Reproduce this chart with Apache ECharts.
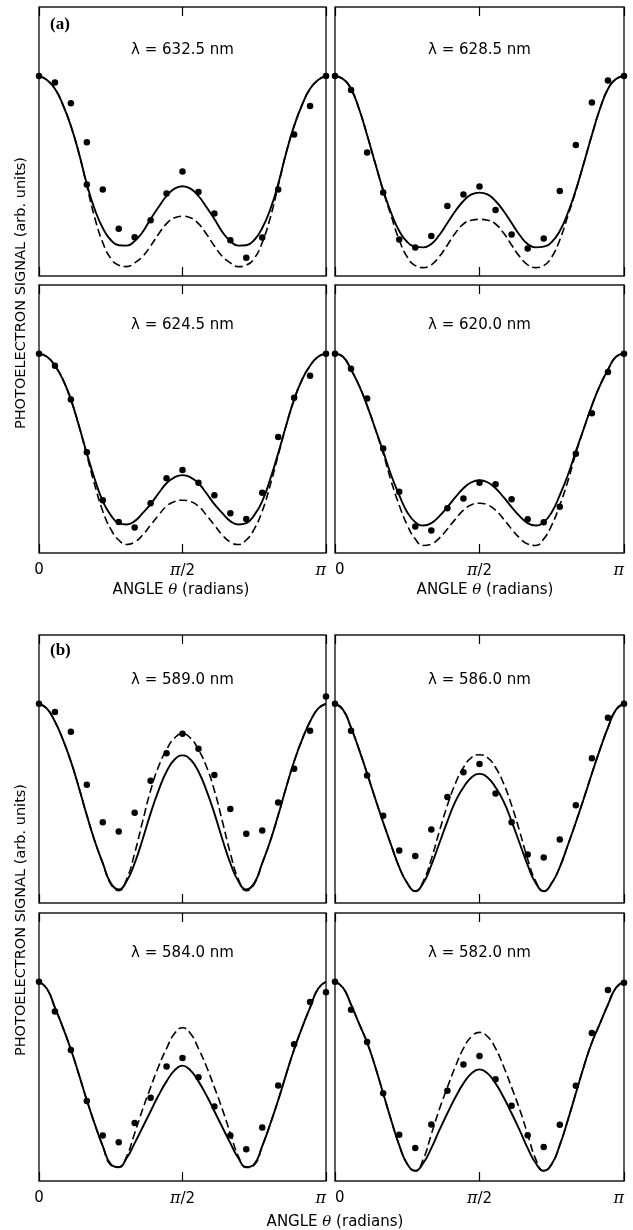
<!DOCTYPE html>
<html>
<head>
<meta charset="utf-8">
<script src="https://cdn.jsdelivr.net/npm/echarts/dist/echarts.min.js"></script>
<style>
html,body{margin:0;padding:0;background:#fff;}
#chart{width:633px;height:1230px;}
</style>
</head>
<body>
<div id="chart"></div>
<script>
// ---- data (angles in degrees; 90 = pi/2, 180 = pi) ----
const curveAngles = [0,5,10,15,20,25,30,35,40,45,50,55,60,65,70,75,80,85,90,95,100,105,110,115,120,125,130,135,140,145,150,155,160,165,170,175,180];
const dotAngles = [0,10,20,30,40,50,60,70,80,90,100,110,120,130,140,150,160,170,180];
const xTickValues = [0, 90, 180];
const xTickLabels = ['0', 'π/2', 'π'];
const figureLabels = ['(a)', '(b)'];
const panelTitles = ['λ = 632.5 nm', 'λ = 628.5 nm', 'λ = 624.5 nm', 'λ = 620.0 nm',
                     'λ = 589.0 nm', 'λ = 586.0 nm', 'λ = 584.0 nm', 'λ = 582.0 nm'];
const yTitle = 'PHOTOELECTRON SIGNAL (arb. units)';
const xTitle = 'ANGLE θ (radians)';

// 632.5 nm
const solid6325 = [1.0,.98,.936,.856,.75,.615,.46,.332,.24,.18,.154,.152,.175,.22,.285,.345,.40,.437,.449,.437,.40,.345,.285,.22,.175,.152,.154,.18,.24,.332,.46,.615,.75,.856,.936,.98,1.0];
const dashed6325 = [1.0,.98,.936,.856,.75,.615,.45,.29,.167,.088,.054,.047,.066,.098,.15,.21,.262,.291,.299,.291,.262,.21,.15,.098,.066,.047,.054,.088,.167,.29,.45,.615,.75,.856,.936,.98,1.0];
const dots6325 = [1.0,.967,.864,.669,.432,.236,.194,.279,.412,.522,.42,.312,.179,.091,.193,.432,.708,.85,1.0];
const extraDots6325 = [[30,.457]];
// 628.5 nm
const solid6285 = [1.0,.985,.935,.835,.705,.565,.43,.315,.225,.17,.147,.143,.16,.205,.265,.325,.375,.408,.417,.408,.375,.325,.265,.205,.16,.143,.147,.17,.225,.315,.43,.565,.705,.835,.935,.985,1.0];
const dashed6285 = [1.0,.985,.935,.835,.705,.565,.425,.30,.18,.095,.052,.042,.056,.097,.155,.215,.26,.279,.283,.279,.26,.215,.155,.097,.056,.042,.052,.095,.18,.30,.425,.565,.705,.835,.935,.985,1.0];
const dots6285 = [1.0,.93,.618,.418,.183,.143,.2,.35,.408,.447,.33,.208,.138,.188,.425,.655,.867,.977,1.0];
// 624.5 nm
const solid6245 = [1.0,.985,.94,.87,.77,.64,.5,.37,.26,.19,.15,.143,.16,.2,.245,.3,.35,.38,.391,.38,.35,.3,.245,.2,.16,.143,.15,.19,.26,.37,.5,.64,.77,.87,.94,.985,1.0];
const dashed6245 = [1.0,.985,.94,.87,.77,.64,.49,.34,.21,.12,.065,.043,.055,.09,.14,.19,.235,.258,.265,.258,.235,.19,.14,.09,.055,.043,.065,.12,.21,.34,.49,.64,.77,.87,.94,.985,1.0];
const dots6245 = [1.0,.94,.77,.506,.265,.156,.128,.25,.375,.416,.353,.29,.199,.171,.303,.582,.779,.889,1.0];
// 620.0 nm
const solid6200 = [1.0,.985,.92,.84,.74,.625,.51,.39,.29,.205,.155,.138,.15,.185,.23,.28,.325,.355,.365,.355,.325,.28,.23,.185,.15,.138,.155,.205,.29,.39,.51,.625,.74,.84,.92,.985,1.0];
const dashed6200 = [1.0,.985,.92,.84,.74,.625,.5,.36,.24,.14,.07,.038,.045,.075,.12,.17,.215,.242,.25,.242,.215,.17,.12,.075,.045,.038,.07,.14,.24,.36,.5,.625,.74,.84,.92,.985,1.0];
const dots6200 = [1.0,.925,.776,.524,.307,.133,.113,.224,.274,.352,.345,.27,.169,.154,.232,.498,.701,.909,1.0];
// 589.0 nm
const solid5890 = [1.0,.975,.91,.82,.71,.58,.44,.31,.2,.1,.068,.11,.2,.32,.45,.565,.66,.72,.741,.72,.66,.565,.45,.32,.2,.11,.068,.1,.2,.31,.44,.58,.71,.82,.91,.975,1.0];
const dashed5890 = [1.0,.975,.91,.82,.71,.58,.44,.31,.2,.095,.062,.12,.25,.41,.565,.685,.77,.828,.85,.828,.77,.685,.565,.41,.25,.12,.062,.095,.2,.31,.44,.58,.71,.82,.91,.975,1.0];
const dots5890 = [1.0,.958,.859,.593,.405,.359,.453,.613,.751,.85,.774,.643,.472,.347,.364,.505,.674,.864,1.036];
// 586.0 nm
const solid5860 = [1.0,.97,.88,.77,.65,.525,.405,.29,.18,.1,.06,.1,.19,.3,.41,.51,.58,.63,.648,.63,.58,.51,.41,.3,.19,.1,.06,.1,.18,.29,.405,.525,.65,.77,.88,.97,1.0];
const dashed5860 = [1.0,.97,.88,.77,.65,.525,.405,.29,.18,.1,.058,.11,.22,.36,.49,.6,.68,.73,.744,.73,.68,.6,.49,.36,.22,.11,.058,.1,.18,.29,.405,.525,.65,.77,.88,.97,1.0];
const dots5860 = [1.0,.864,.64,.438,.264,.236,.369,.532,.656,.698,.549,.405,.243,.228,.319,.491,.727,.93,1.0];
// 584.0 nm
const solid5840 = [1.0,.965,.87,.77,.66,.535,.405,.285,.175,.085,.07,.115,.19,.27,.35,.43,.5,.555,.579,.555,.5,.43,.35,.27,.19,.115,.07,.085,.175,.285,.405,.535,.66,.77,.87,.965,1.0];
const dashed5840 = [1.0,.965,.87,.77,.66,.535,.405,.285,.175,.08,.068,.125,.24,.36,.47,.575,.665,.74,.769,.74,.665,.575,.47,.36,.24,.125,.068,.08,.175,.285,.405,.535,.66,.77,.87,.965,1.0];
const dots5840 = [1.0,.851,.658,.402,.228,.195,.291,.418,.575,.617,.521,.374,.228,.159,.269,.479,.686,.898,.947];
// 582.0 nm
const solid5820 = [1.0,.97,.885,.79,.695,.575,.44,.305,.18,.085,.052,.09,.165,.255,.34,.42,.49,.54,.56,.54,.49,.42,.34,.255,.165,.09,.052,.085,.18,.305,.44,.575,.695,.79,.885,.97,1.0];
const dashed5820 = [1.0,.97,.885,.79,.695,.575,.44,.305,.18,.085,.05,.11,.235,.36,.47,.575,.665,.725,.746,.725,.665,.575,.47,.36,.235,.11,.05,.085,.18,.305,.44,.575,.695,.79,.885,.97,1.0];
const dots5820 = [1.0,.859,.698,.441,.232,.166,.284,.453,.585,.627,.511,.378,.229,.171,.282,.478,.743,.959,.995];

const panels = [
  {title: panelTitles[0], solid: solid6325, dashed: dashed6325, dots: dots6325, extra: extraDots6325},
  {title: panelTitles[1], solid: solid6285, dashed: dashed6285, dots: dots6285, extra: []},
  {title: panelTitles[2], solid: solid6245, dashed: dashed6245, dots: dots6245, extra: []},
  {title: panelTitles[3], solid: solid6200, dashed: dashed6200, dots: dots6200, extra: []},
  {title: panelTitles[4], solid: solid5890, dashed: dashed5890, dots: dots5890, extra: []},
  {title: panelTitles[5], solid: solid5860, dashed: dashed5860, dots: dots5860, extra: []},
  {title: panelTitles[6], solid: solid5840, dashed: dashed5840, dots: dots5840, extra: []},
  {title: panelTitles[7], solid: solid5820, dashed: dashed5820, dots: dots5820, extra: []}
];

// ---- layout ----
const INK = '#000';
const SANS = 'DejaVu Sans';
const cols = [{left: 39, width: 287}, {left: 335, width: 289}];
const rows = [{top: 7, height: 269}, {top: 285, height: 268}, {top: 635, height: 268}, {top: 913, height: 268}];
const titleOffsets = [43, 40, 45, 40];
const Y_MAX = 1.345;

const grids = [], xAxes = [], xAxesTop = [], yAxes = [], series = [], graphics = [];

panels.forEach((p, i) => {
  const r = Math.floor(i / 2), c = i % 2;
  const g = {left: cols[c].left, top: rows[r].top, width: cols[c].width, height: rows[r].height};
  const bottomRow = (r === 1 || r === 3);
  grids.push({left: g.left, top: g.top, width: g.width, height: g.height, show: true,
    borderColor: '#1a1a1a', borderWidth: 1.4, backgroundColor: 'transparent', containLabel: false});
  xAxes.push({
    gridIndex: i, type: 'value', min: 0, max: 180, interval: 90, position: 'bottom',
    axisLine: {show: false}, splitLine: {show: false},
    axisTick: {show: true, inside: true, length: 9, lineStyle: {color: INK, width: 1.2}},
    axisLabel: {
      show: bottomRow, margin: 10, color: INK, fontFamily: SANS, fontSize: 15,
      showMinLabel: true, showMaxLabel: true,
      alignMinLabel: c === 0 ? 'center' : 'left', alignMaxLabel: 'right',
      formatter: v => {
        const k = xTickValues.indexOf(v);
        const s = k >= 0 ? xTickLabels[k] : '';
        return s.replace('π', '{p|π}');
      },
      rich: {p: {fontFamily: 'DejaVu Serif', fontStyle: 'italic', fontSize: 16, color: INK}}
    }
  });
  xAxesTop.push({
    gridIndex: i, type: 'value', min: 0, max: 180, interval: 90, position: 'top',
    axisLine: {show: false}, splitLine: {show: false}, axisLabel: {show: false},
    axisTick: {show: true, inside: true, length: 9, lineStyle: {color: INK, width: 1.2}}
  });
  yAxes.push({gridIndex: i, type: 'value', min: 0, max: Y_MAX, show: false});

  series.push({
    type: 'line', xAxisIndex: i, yAxisIndex: i, smooth: 0.5, symbol: 'none', clip: false,
    lineStyle: {color: INK, width: 1.9}, data: curveAngles.map((a, k) => [a, p.solid[k]]), z: 3
  });
  series.push({
    type: 'line', xAxisIndex: i, yAxisIndex: i, smooth: 0.5, symbol: 'none', clip: false,
    lineStyle: {color: INK, width: 1.6, type: [8, 4]}, data: curveAngles.map((a, k) => [a, p.dashed[k]]), z: 2
  });
  series.push({
    type: 'scatter', xAxisIndex: i, yAxisIndex: i, symbol: 'circle', symbolSize: 6.5, clip: false,
    itemStyle: {color: INK, opacity: 1}, data: dotAngles.map((a, k) => [a, p.dots[k]]).concat(p.extra), z: 4
  });

  graphics.push({
    type: 'text', x: g.left + g.width / 2, y: g.top + titleOffsets[r],
    style: {text: p.title, fontFamily: SANS, fontSize: 15, fill: INK, textAlign: 'center', textVerticalAlign: 'middle'}
  });
});

// figure labels
graphics.push({type: 'text', x: 50, y: 25, style: {text: figureLabels[0], fontFamily: 'Liberation Serif', fontWeight: 'bold', fontSize: 17, fill: INK, textAlign: 'left', textVerticalAlign: 'middle'}});
graphics.push({type: 'text', x: 50, y: 651, style: {text: figureLabels[1], fontFamily: 'Liberation Serif', fontWeight: 'bold', fontSize: 17, fill: INK, textAlign: 'left', textVerticalAlign: 'middle'}});

// y titles
[293, 920].forEach(yc => {
  graphics.push({type: 'text', x: 21, y: yc, rotation: Math.PI / 2,
    style: {text: yTitle, fontFamily: SANS, fontSize: 14.5, fill: INK, textAlign: 'center', textVerticalAlign: 'middle'}});
});

// x titles
const xTitleRich = xTitle.replace('θ', '{t|θ}');
[[181, 590], [485, 590], [335, 1222]].forEach(([xc, yc]) => {
  graphics.push({type: 'text', x: xc, y: yc,
    style: {text: xTitleRich, fontFamily: SANS, fontSize: 15, fill: INK, textAlign: 'center', textVerticalAlign: 'middle',
      rich: {t: {fontFamily: 'DejaVu Serif', fontStyle: 'italic', fontSize: 15, fill: INK, color: INK}}}});
});

const chart = echarts.init(document.getElementById('chart'), null, {renderer: 'canvas'});
chart.setOption({
  animation: false,
  backgroundColor: '#fff',
  grid: grids,
  xAxis: xAxes.concat(xAxesTop),
  yAxis: yAxes,
  series: series,
  graphic: graphics
});
</script>
</body>
</html>
